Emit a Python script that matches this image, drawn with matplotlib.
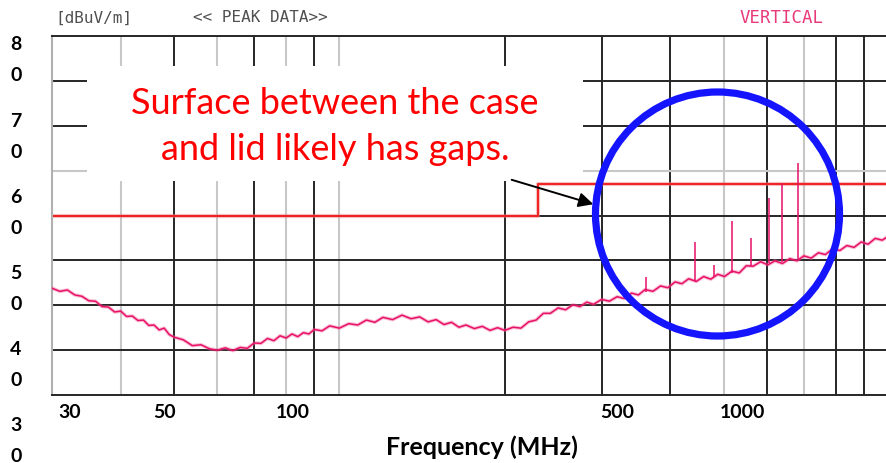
import matplotlib.pyplot as plt
import numpy as np
from matplotlib.patches import Rectangle, Ellipse, FancyArrowPatch

# Datos del barrido (MHz, dBuV/m)
freq = [30, 31, 32, 33, 34, 35, 36, 37, 38, 39, 40, 41, 42, 43, 44, 45, 46, 47, 48, 49,
        50, 52, 54, 56, 58, 60, 62, 64, 66, 68, 70, 72, 74, 76, 78, 80, 82, 84, 86, 88,
        90, 93, 96, 100, 104, 108, 112, 116, 120, 125, 130, 135, 140, 145, 150, 155, 160,
        165, 170, 176, 182, 188, 194, 200, 207, 214, 221, 228, 235, 242, 250, 258, 266,
        274, 282, 290, 300, 310, 320, 330, 340, 350, 360, 372, 384, 396, 408, 420, 432,
        446, 460, 474, 488, 502, 518, 534, 550, 566, 584, 602, 620, 640, 660, 680, 700,
        722, 744, 766, 790, 814, 838, 864, 890, 916, 944, 972, 1000]
nivel = [23.8, 23.1, 23.4, 22.3, 22.0, 21.0, 20.9, 19.7, 19.6, 18.5, 18.7, 17.5, 17.6, 16.6,
         16.7, 15.5, 15.6, 14.5, 14.9, 13.5, 12.9, 12.3, 11.0, 11.2, 10.3, 10.0, 10.5, 9.9,
         10.6, 10.4, 11.6, 11.5, 12.6, 12.1, 13.2, 12.7, 13.6, 13.0, 13.9, 13.6, 14.6, 14.3,
         15.4, 14.9, 15.9, 15.6, 16.7, 16.2, 17.3, 16.8, 17.8, 17.0, 17.4, 16.3, 16.8, 15.7,
         16.2, 15.1, 15.6, 14.8, 15.3, 14.4, 15.0, 14.4, 15.1, 14.9, 16.3, 16.7, 18.2, 18.2,
         19.4, 19.0, 20.1, 19.7, 20.7, 20.2, 21.3, 20.9, 21.9, 21.5, 22.7, 22.3, 23.5, 23.1,
         24.3, 23.9, 25.2, 24.8, 25.9, 25.3, 26.4, 25.8, 26.9, 26.4, 27.6, 27.2, 28.8, 28.7,
         29.7, 29.0, 29.9, 29.3, 30.4, 29.9, 31.0, 30.5, 31.7, 31.3, 32.6, 32.2, 33.3, 32.9,
         34.1, 33.6, 34.9, 34.5, 35.5]

# Picos discretos
pico_freq = [362, 443, 481, 519, 562, 604, 640, 682]
pico_base = [23.0, 25.5, 26.2, 27.2, 28.8, 29.4, 29.7, 30.3]
pico_top = [26.2, 34.0, 28.9, 38.7, 34.9, 43.8, 47.3, 51.8]

# Limite
lim_freq = [30, 230, 230, 1000]
lim_nivel = [40, 40, 47, 47]

# Grilla
grid_negra = [50, 70, 90, 200, 300, 400, 600, 800, 900]
grid_gris = [40, 60, 80, 100, 500, 700]
grid_h_negra = [10, 20, 30, 40, 60, 70]
grid_h_gris = [50]

W, H = 887, 464
fig = plt.figure(figsize=(W / 100, H / 100), dpi=100)
ax = fig.add_axes([52 / W, 1 - 396 / H, (889 - 52) / W, (396 - 37) / H])
ax.set_xscale('log')
ax.set_xlim(30, 1000)
ax.set_ylim(0, 80)
ax.set_xticks([])
ax.set_yticks([])
ax.xaxis.set_minor_locator(plt.NullLocator())

for f in grid_gris:
    ax.axvline(f, color='#c8c8c8', lw=1.5, zorder=1)
for f in grid_negra:
    ax.axvline(f, color='#262626', lw=1.4, zorder=1)
for v in grid_h_gris:
    ax.axhline(v, color='#c8c8c8', lw=1.5, zorder=1)
for v in grid_h_negra:
    ax.axhline(v, color='#262626', lw=1.4, zorder=1)

for s in ['top', 'bottom']:
    ax.spines[s].set_color('#262626')
    ax.spines[s].set_linewidth(1.4)
ax.spines['left'].set_color('#b0b0b0')
ax.spines['left'].set_linewidth(1.5)
ax.spines['right'].set_visible(False)

# Limite en rojo
ax.plot(lim_freq, lim_nivel, color='#f08080', lw=3.0, alpha=0.5, zorder=2)
ax.plot(lim_freq, lim_nivel, color='#ee2222', lw=1.4, zorder=2)

# Barrido
ax.plot(freq, nivel, color='#f06090', lw=2.6, alpha=0.4, zorder=3)
ax.plot(freq, nivel, color='#e8106a', lw=1.1, zorder=3)
ax.vlines(pico_freq, pico_base, pico_top, color='#e8106a', lw=1.1, zorder=3)

# Encabezado
fig.text(55 / W, 1 - 18 / H, '[dBuV/m]', fontsize=11.5, color='#505050',
         family='DejaVu Sans Mono', va='center')
fig.text(193 / W, 1 - 18 / H, '<< PEAK DATA>>', fontsize=11.5, color='#505050',
         family='DejaVu Sans Mono', va='center')
fig.text(740 / W, 1 - 18 / H, 'VERTICAL', fontsize=12.5, color='#e83a7a',
         family='DejaVu Sans Mono', va='center')

# Etiquetas del eje y (digitos partidos)
for i, lab in enumerate(['80', '70', '60', '50', '40', '30']):
    y0 = 45 + i * 76.2
    fig.text(16 / W, 1 - y0 / H, lab[0], fontsize=14, fontweight='bold',
             family='Lato', ha='center', va='center')
    fig.text(16 / W, 1 - (y0 + 31) / H, lab[1], fontsize=14, fontweight='bold',
             family='Lato', ha='center', va='center')

# Etiquetas del eje x
for lab, xp in zip(['30', '50', '100', '500', '1000'], [70, 165, 293, 617, 742]):
    fig.text(xp / W, 1 - 412 / H, lab, fontsize=14, fontweight='bold',
             family='Lato', ha='center', va='center')
fig.text(482 / W, 1 - 447 / H, 'Frequency (MHz)', fontsize=18, fontweight='bold',
         family='Lato', ha='center', va='center')

# Cuadro de texto
fig.add_artist(Rectangle((87 / W, 1 - 182 / H), (583 - 87) / W, (182 - 67) / H,
                         transform=fig.transFigure, facecolor='white',
                         edgecolor='none', zorder=5))
fig.text(335 / W, 1 - 103 / H, 'Surface between the case', fontsize=26,
         color='#ff0000', family='Lato', ha='center', va='center', zorder=6)
fig.text(335 / W, 1 - 150 / H, 'and lid likely has gaps.', fontsize=26,
         color='#ff0000', family='Lato', ha='center', va='center', zorder=6)

# Flecha
fig.add_artist(FancyArrowPatch((509 / W, 1 - 180 / H), (596 / W, 1 - 206 / H),
                               transform=fig.transFigure, arrowstyle='-|>',
                               mutation_scale=22, color='black', lw=1.4, zorder=7))

# Circulo azul
fig.add_artist(Ellipse((717.5 / W, 1 - 215 / H), 2 * 122 / W, 2 * 122 / H,
                       transform=fig.transFigure, facecolor='none',
                       edgecolor='#1414ff', lw=5.2, zorder=8))

plt.savefig('out.png', dpi=100)
